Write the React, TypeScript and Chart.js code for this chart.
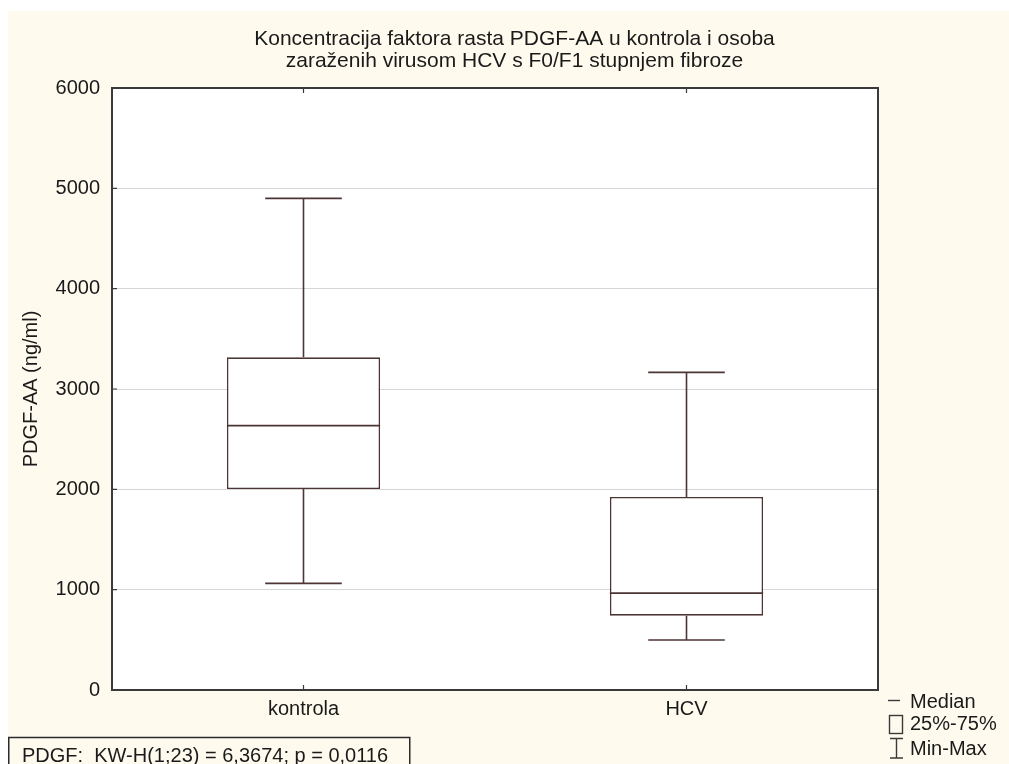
import React, { useEffect, useRef } from "react";
import { Chart, registerables } from "chart.js";

Chart.register(...registerables);

const categories = ["kontrola", "HCV"];
const minValues = [1063, 498];
const q1Values = [2003, 741];
const medianValues = [2635, 966];
const q3Values = [3316, 1924];
const maxValues = [4900, 3166];
const yTicks = [0, 1000, 2000, 3000, 4000, 5000, 6000];

const titleLines = [
  "Koncentracija faktora rasta PDGF-AA u kontrola i osoba",
  "zaraženih virusom HCV s F0/F1 stupnjem fibroze",
];
const yAxisTitle = "PDGF-AA (ng/ml)";
const statText = "PDGF:  KW-H(1;23) = 6,3674; p = 0,0116";
const legendLabels = ["Median", "25%-75%", "Min-Max"];

const FONT = "'Liberation Sans', Arial, sans-serif";
const TEXT = "#1a1a1a";
const BOXLINE = "#4d3535";
const CREAM = "#fefaee";

const extrasPlugin = {
  id: "boxExtras",
  beforeDraw(chart: any) {
    const { ctx, chartArea: a, width, height } = chart;
    ctx.save();
    ctx.fillStyle = CREAM;
    ctx.fillRect(0, 0, width, height);
    ctx.fillStyle = "#ffffff";
    ctx.fillRect(a.left, a.top, a.right - a.left, a.bottom - a.top);
    ctx.restore();
  },
  afterDatasetsDraw(chart: any) {
    const { ctx } = chart;
    const xs = chart.scales.x;
    const ys = chart.scales.y;
    const meta = chart.getDatasetMeta(0);
    ctx.save();
    ctx.strokeStyle = BOXLINE;
    ctx.lineWidth = 1.6;
    categories.forEach((_, i) => {
      const cx = xs.getPixelForValue(i);
      const bar = meta.data[i] as any;
      const half = bar.width / 2;
      const capHalf = half / 2;
      const yMin = ys.getPixelForValue(minValues[i]);
      const yQ1 = ys.getPixelForValue(q1Values[i]);
      const yMed = ys.getPixelForValue(medianValues[i]);
      const yQ3 = ys.getPixelForValue(q3Values[i]);
      const yMax = ys.getPixelForValue(maxValues[i]);
      ctx.beginPath();
      ctx.moveTo(cx, yQ1);
      ctx.lineTo(cx, yMin);
      ctx.moveTo(cx - capHalf, yMin);
      ctx.lineTo(cx + capHalf, yMin);
      ctx.moveTo(cx, yQ3);
      ctx.lineTo(cx, yMax);
      ctx.moveTo(cx - capHalf, yMax);
      ctx.lineTo(cx + capHalf, yMax);
      ctx.moveTo(cx - half, yMed);
      ctx.lineTo(cx + half, yMed);
      ctx.stroke();
    });
    ctx.restore();
  },
  afterDraw(chart: any) {
    const { ctx, chartArea: a } = chart;
    const xs = chart.scales.x;
    const ys = chart.scales.y;
    ctx.save();
    // frame
    ctx.strokeStyle = "#3a3a3a";
    ctx.lineWidth = 2;
    ctx.strokeRect(a.left, a.top, a.right - a.left, a.bottom - a.top);
    // inner tick marks
    ctx.lineWidth = 1.2;
    ctx.beginPath();
    categories.forEach((_, i) => {
      const px = xs.getPixelForValue(i);
      ctx.moveTo(px, a.top);
      ctx.lineTo(px, a.top + 5);
      ctx.moveTo(px, a.bottom);
      ctx.lineTo(px, a.bottom - 5);
    });
    yTicks.forEach((v) => {
      const py = ys.getPixelForValue(v);
      ctx.moveTo(a.left, py);
      ctx.lineTo(a.left + 5, py);
    });
    ctx.stroke();

    // title
    ctx.fillStyle = TEXT;
    ctx.font = `21px ${FONT}`;
    ctx.textAlign = "center";
    ctx.textBaseline = "alphabetic";
    ctx.fillText(titleLines[0], 506.5, 34);
    ctx.fillText(titleLines[1], 506.5, 56);

    // legend
    ctx.font = `20px ${FONT}`;
    ctx.textAlign = "left";
    ctx.strokeStyle = "#3a3a3a";
    ctx.lineWidth = 1.4;
    ctx.beginPath();
    ctx.moveTo(880, 689.5);
    ctx.lineTo(892, 689.5);
    ctx.stroke();
    ctx.strokeRect(881.5, 704.5, 13, 18);
    ctx.beginPath();
    ctx.moveTo(882, 727.5);
    ctx.lineTo(895, 727.5);
    ctx.moveTo(888.5, 727.5);
    ctx.lineTo(888.5, 747);
    ctx.moveTo(882, 747);
    ctx.lineTo(895, 747);
    ctx.stroke();
    ctx.fillText(legendLabels[0], 902, 697);
    ctx.fillText(legendLabels[1], 902, 719);
    ctx.fillText(legendLabels[2], 902, 744);

    // stats box
    ctx.lineWidth = 1.5;
    ctx.strokeStyle = "#2a2a2a";
    ctx.strokeRect(0.75, 726.5, 401, 40);
    ctx.fillText(statText, 14, 751);
    ctx.restore();
  },
};

export default function App() {
  const canvasRef = useRef<HTMLCanvasElement | null>(null);

  useEffect(() => {
    if (!canvasRef.current) return;
    const chart = new Chart(canvasRef.current, {
      type: "bar",
      data: {
        labels: categories,
        datasets: [
          {
            data: categories.map((_, i) => [q1Values[i], q3Values[i]]) as any,
            backgroundColor: "#ffffff",
            borderColor: BOXLINE,
            borderWidth: 1.6,
            borderSkipped: false,
            barPercentage: 0.4,
            categoryPercentage: 1,
          },
        ],
      },
      options: {
        animation: false,
        responsive: false,
        devicePixelRatio: 1,
        layout: { padding: { left: 0, right: 131, top: 77, bottom: 0 } },
        plugins: {
          legend: { display: false },
          title: { display: false },
          tooltip: { enabled: false },
        },
        scales: {
          x: {
            type: "category",
            offset: true,
            grid: { display: false, drawTicks: false },
            border: { display: false },
            ticks: { font: { family: FONT, size: 20 }, color: TEXT, padding: 7 },
            afterFit: (s: any) => {
              s.height = 74;
            },
          },
          y: {
            min: 0,
            max: 6000,
            grid: { color: "#d6d6d6", lineWidth: 1, drawTicks: false },
            border: { display: false },
            ticks: {
              stepSize: 1000,
              font: { family: FONT, size: 20 },
              color: TEXT,
              padding: 12,
              callback: (v: any) => String(v),
            },
            title: {
              display: true,
              text: yAxisTitle,
              font: { family: FONT, size: 20 },
              color: TEXT,
              padding: { top: 11, bottom: 0 },
            },
            afterFit: (s: any) => {
              s.width = 104;
            },
          },
        },
      },
      plugins: [extrasPlugin],
    });
    return () => chart.destroy();
  }, []);

  return (
    <div
      style={{
        position: "fixed",
        left: 0,
        top: 0,
        width: 1009,
        height: 764,
        background: "#ffffff",
        overflow: "hidden",
      }}
    >
      <canvas
        ref={canvasRef}
        width={1001}
        height={753}
        style={{ position: "absolute", left: 8, top: 11, width: 1001, height: 753 }}
      />
    </div>
  );
}
